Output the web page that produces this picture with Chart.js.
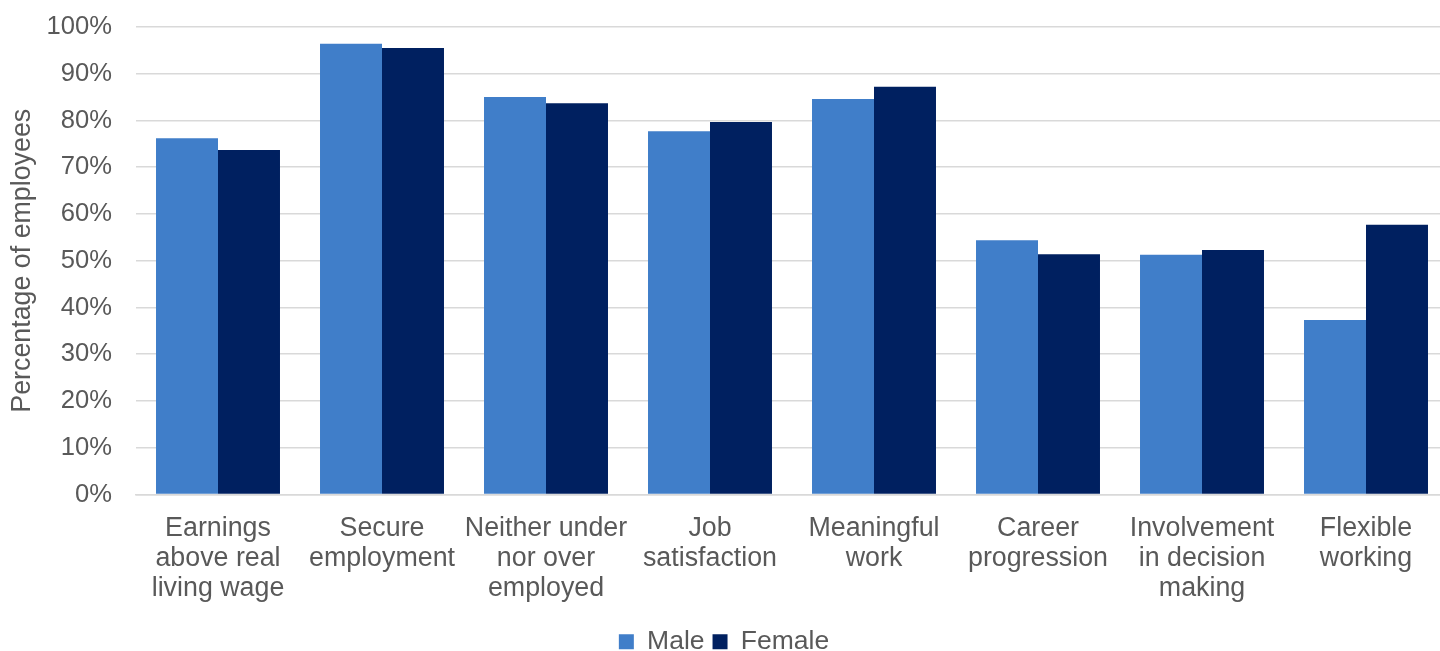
<!DOCTYPE html>
<html>
<head>
<meta charset="utf-8">
<script src="https://cdn.jsdelivr.net/npm/chart.js@4"></script>
<style>
    html, body { margin: 0; padding: 0; background: #fff; overflow: hidden; }
    #wrap { width: 1450px; height: 665px; position: relative; }
</style>
</head>
<body>
<div id="wrap"><canvas id="jobsChart"></canvas></div>
<script>
const categories = [
    ['Earnings', 'above real', 'living wage'],
    ['Secure', 'employment'],
    ['Neither under', 'nor over', 'employed'],
    ['Job', 'satisfaction'],
    ['Meaningful', 'work'],
    ['Career', 'progression'],
    ['Involvement', 'in decision', 'making'],
    ['Flexible', 'working']
];
const male = [76.2, 96.4, 85.0, 77.7, 84.6, 54.4, 51.3, 37.3];
const female = [73.7, 95.5, 83.7, 79.7, 87.2, 51.4, 52.3, 57.7];
const yTicks = [0, 10, 20, 30, 40, 50, 60, 70, 80, 90, 100];

const family = 'Liberation Sans, Arial, sans-serif';
const grey = '#595959';

document.addEventListener('DOMContentLoaded', () => {
    const ctx = document.getElementById('jobsChart').getContext('2d');
    new Chart(ctx, {
        type: 'bar',
        data: {
            labels: categories,
            datasets: [{
                label: 'Male',
                data: male,
                backgroundColor: '#407ec9',
                categoryPercentage: 0.756,
                barPercentage: 1.0
            }, {
                label: 'Female',
                data: female,
                backgroundColor: '#002060',
                categoryPercentage: 0.756,
                barPercentage: 1.0
            }]
        },
        options: {
            responsive: true,
            maintainAspectRatio: false,
            animation: false,
            layout: { padding: { top: 27, left: 0, right: 2, bottom: 0 } },
            plugins: {
                legend: {
                    position: 'bottom',
                    labels: { font: { family: family, size: 26.5 }, color: grey, boxWidth: 15, boxHeight: 15, padding: 8 }
                },
                tooltip: { enabled: false }
            },
            scales: {
                x: {
                    grid: { display: false },
                    border: { color: '#d9d9d9', width: 1.5 },
                    ticks: {
                        font: { family: family, size: 26.8, lineHeight: 1.12 },
                        color: grey, maxRotation: 0, autoSkip: false, padding: 11
                    },
                    afterFit: axis => { axis.height += 6; }
                },
                y: {
                    min: 0,
                    max: 100,
                    afterBuildTicks: axis => { axis.ticks = yTicks.map(v => ({ value: v })); },
                    afterFit: axis => {
                        axis.width = 136;
                        axis.paddingTop = 0;
                        axis.paddingBottom = 0;
                    },
                    grid: { color: '#d9d9d9', lineWidth: 1.5, drawTicks: false },
                    border: { display: false },
                    ticks: { font: { family: family, size: 25.6 }, color: grey, padding: 24, callback: v => v + '%' },
                    title: {
                        display: true, text: 'Percentage of employees',
                        font: { family: family, size: 26.8 }, color: grey, padding: { top: 7, bottom: 0 }
                    }
                }
            }
        }
    });
});
</script>
</body>
</html>
